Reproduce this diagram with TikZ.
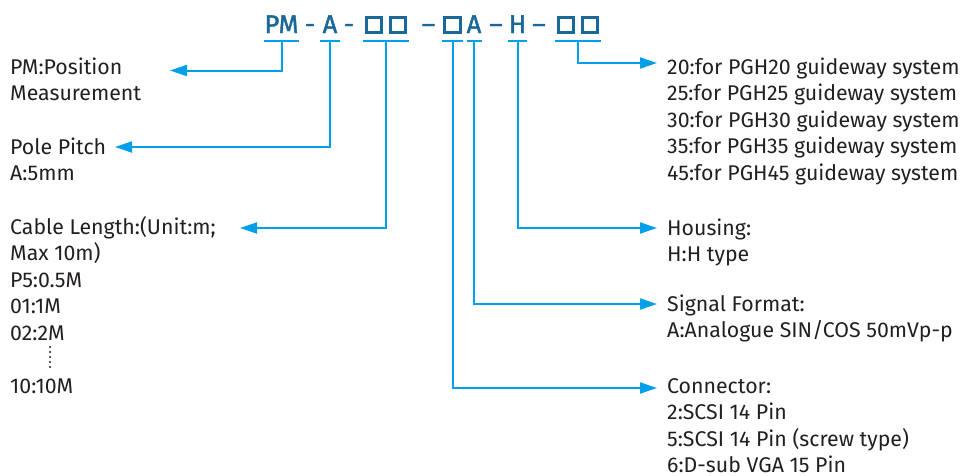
\documentclass[tikz,border=0pt]{standalone}
\usepackage{fontspec}
\setmainfont{Fira Sans}
\newfontfamily\codefont[FakeBold=1.6]{Fira Sans}
\usetikzlibrary{arrows.meta,calc,positioning}
\definecolor{codeblue}{RGB}{26,104,152}
\definecolor{leadblue}{RGB}{0,160,233}
\definecolor{txtgray}{RGB}{35,31,32}
\tikzset{
  code/.style={
    anchor = base,
    inner sep = 0pt,
    text = codeblue,
    font = \fontsize{25.5}{25.5}\codefont
  },
  sqbox/.style={
    shape = rectangle,
    draw = codeblue,
    line width = 2.8pt,
    minimum size = 15.5pt,
    inner sep = 0pt
  },
  uline/.style={
    draw = leadblue,
    line width = 2.4pt
  },
  lead/.style={
    draw = leadblue,
    line width = 2pt,
    -{Triangle[length=17pt,width=11pt]}
  },
  % anchor is the baseline of the last line
  info/.style={
    anchor = base west,
    align = left,
    inner sep = 0pt,
    text = txtgray,
    font = \fontsize{21.3}{26.5}\selectfont
  }
}

\begin{document}
\begin{tikzpicture}[x=1pt,y=-1pt]
    \useasboundingbox (0,0) rectangle (963,475);
    % the ordering code
    \node[code] (pm) at (281.5,33) {PM};
    \node[code] (dasha) at (310,33) {-};
    \node[code] (pitch) at (330,33) {A};
    \node[code] (dashb) at (349,33) {-};
    \node[sqbox] (lena) at (374,25) {};
    \node[sqbox] (lenb) at (398,25) {};
    \node[code] (dashc) at (428.5,33) {–};
    \node[sqbox] (plug) at (452.5,25) {};
    \node[code] (signal) at (474,33) {A};
    \node[code] (dashd) at (496,33) {–};
    \node[code] (house) at (517.5,33) {H};
    \node[code] (dashe) at (539,33) {–};
    \node[sqbox] (sizea) at (566,25) {};
    \node[sqbox] (sizeb) at (590,25) {};
    \coordinate (ul) at (0,41);
    \coordinate (lenmid) at ($(lena)!0.5!(lenb)$);
    \coordinate (sizemid) at ($(sizea)!0.5!(sizeb)$);
    % underlines
    \draw[uline] (pm.west |- ul) -- (pm.east |- ul);
    \draw[uline] ([xshift=-2pt]pitch.west |- ul) -- ([xshift=2pt]pitch.east |- ul);
    \draw[uline] ([xshift=-2pt]lena.west |- ul) -- ([xshift=2pt]lenb.east |- ul);
    \draw[uline] ([xshift=-1pt]plug.west |- ul) -- ([xshift=1pt]plug.east |- ul);
    \draw[uline] (signal.west |- ul) -- (signal.east |- ul);
    \draw[uline] ([xshift=-1pt]house.west |- ul) -- ([xshift=1pt]house.east |- ul);
    \draw[uline] ([xshift=-2pt]sizea.west |- ul) -- ([xshift=2pt]sizeb.east |- ul);
    % texts
    \node[info] (pmtxt) at (10,100.5) {PM:Position\\Measurement};
    \node[info] (poletxt) at (10,180.5) {Pole Pitch\\A:5mm};
    \node[info] (cabletxt) at (10,393) {Cable Length:(Unit:m;\\Max 10m)\\P5:0.5M\\01:1M\\02:2M\\\mbox{}\\10:10M};
    \node[info] (sizetxt) at (667,180) {20:for PGH20 guideway system\\25:for PGH25 guideway system\\30:for PGH30 guideway system\\35:for PGH35 guideway system\\45:for PGH45 guideway system};
    \node[info] (housetxt) at (667,261.5) {Housing:\\H:H type};
    \node[info] (signaltxt) at (667,337.5) {Signal Format:\\A:Analogue SIN/COS 50mVp-p};
    \node[info] (conntxt) at (667,472.5) {Connector:\\2:SCSI 14 Pin\\5:SCSI 14 Pin (screw type)\\6:D-sub VGA 15 Pin};
    \draw[txtgray, line width=2.4pt, line cap=round, dash pattern=on 0pt off 5pt] (50,347) -- (50,368);
    % arrow ends
    \coordinate (pmtip) at (170,70.5);
    \coordinate (poletip) at (115,147);
    \coordinate (cabletip) at (240,228);
    \coordinate (sizetip) at (657,63);
    \coordinate (housetip) at (657,228);
    \coordinate (signaltip) at (657,304);
    \coordinate (conntip) at (657,388);
    % leads
    \draw[lead] (pm |- ul) |- (pmtip);
    \draw[lead] (pitch |- ul) |- (poletip);
    \draw[lead] (lenmid |- ul) |- (cabletip);
    \draw[lead] (plug |- ul) |- (conntip);
    \draw[lead] (signal |- ul) |- (signaltip);
    \draw[lead] (house |- ul) |- (housetip);
    \draw[lead] (sizemid |- ul) |- (sizetip);
\end{tikzpicture}
\end{document}
